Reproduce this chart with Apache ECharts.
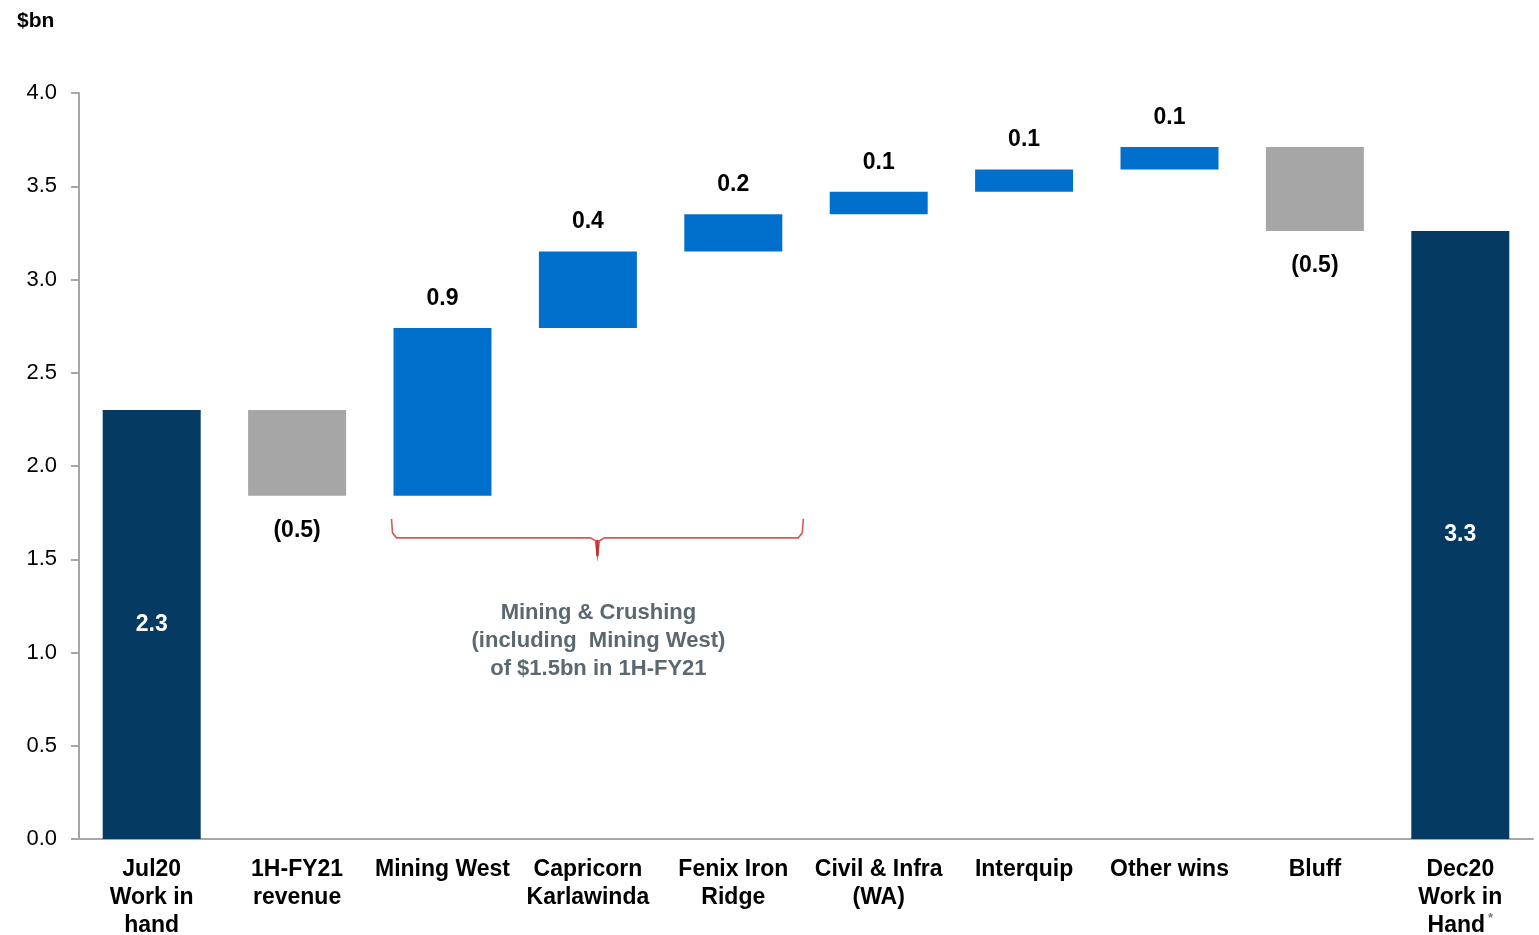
<!DOCTYPE html>
<html>
<head>
<meta charset="utf-8">
<script src="https://cdn.jsdelivr.net/npm/echarts@6/dist/echarts.min.js"></script>
<style>
html,body{margin:0;padding:0;background:#fff;overflow:hidden;}
#chart{width:1539px;height:935px;}
</style>
</head>
<body>
<div id="chart"></div>
<script>
const categories = ['Jul20\nWork in\nhand', '1H-FY21\nrevenue', 'Mining West', 'Capricorn\nKarlawinda', 'Fenix Iron\nRidge', 'Civil & Infra\n(WA)', 'Interquip', 'Other wins', 'Bluff', 'Dec20\nWork in\nHand'];
const kinds = ['total', 'change', 'change', 'change', 'change', 'change', 'change', 'change', 'change', 'total'];
const startValue = 2.30;
const changes = [null, -0.46, 0.90, 0.41, 0.20, 0.12, 0.12, 0.12, -0.45, null];
const valueLabels = ['2.3', '(0.5)', '0.9', '0.4', '0.2', '0.1', '0.1', '0.1', '(0.5)', '3.3'];
const yTicks = { min: 0, max: 4, interval: 0.5 };
const unitLabel = '$bn';
const annotationText = 'Mining & Crushing\n(including  Mining West)\nof $1.5bn in 1H-FY21';

const base = [], totals = [], ups = [], downs = [];
let running = 0;
categories.forEach((c, i) => {
  if (kinds[i] === 'total') {
    const v = i === 0 ? startValue : running;
    running = v;
    base.push(0); totals.push(+v.toFixed(3)); ups.push('-'); downs.push('-');
  } else {
    const d = changes[i];
    if (d >= 0) {
      base.push(+running.toFixed(3)); ups.push(d); downs.push('-'); totals.push('-');
    } else {
      base.push(+(running + d).toFixed(3)); downs.push(-d); ups.push('-'); totals.push('-');
    }
    running += d;
  }
});

const chart = echarts.init(document.getElementById('chart'));
const font = "'Liberation Sans', Arial, sans-serif";
const barW = 98;
const lblFmt = p => valueLabels[p.dataIndex];

chart.setOption({
  animation: false,
  textStyle: { fontFamily: font },
  title: {
    text: unitLabel, left: 12, top: 6,
    textStyle: { fontFamily: font, fontSize: 21, fontWeight: 'bold', color: '#000' }
  },
  grid: { left: 79, right: 6, top: 93, bottom: 96, containLabel: false, outerBoundsMode: 'none' },
  xAxis: {
    type: 'category',
    data: categories,
    axisLine: { lineStyle: { color: '#A6A6A6', width: 2 } },
    axisTick: { show: false },
    axisLabel: {
      interval: 0, margin: 17, color: '#000', fontFamily: font,
      fontSize: 23, fontWeight: 'bold', lineHeight: 28,
      formatter: v => v.indexOf('Hand') >= 0 && v.indexOf('Dec20') >= 0 ? v.replace(/Hand$/, 'Hand{s|*}') : v,
      rich: {
        s: { fontSize: 13, color: '#777', fontFamily: font, verticalAlign: 'top', padding: [0, 0, 14, 3], lineHeight: 28 }
      }
    }
  },
  yAxis: {
    type: 'value',
    min: yTicks.min, max: yTicks.max, interval: yTicks.interval,
    axisLine: { show: true, lineStyle: { color: '#A6A6A6', width: 2 } },
    axisTick: { show: true, length: 8, lineStyle: { color: '#A6A6A6', width: 2 } },
    splitLine: { show: false },
    axisLabel: { margin: 22, color: '#000', fontSize: 22, fontFamily: font, formatter: v => v.toFixed(1) }
  },
  series: [
    { name: 'base', type: 'bar', stack: 'w', barWidth: barW, itemStyle: { color: 'transparent' }, data: base, silent: true },
    {
      name: 'total', type: 'bar', stack: 'w', barWidth: barW, itemStyle: { color: '#053A62' }, data: totals,
      label: { show: true, position: 'inside', color: '#fff', fontWeight: 'bold', fontSize: 23, fontFamily: font, formatter: lblFmt }
    },
    {
      name: 'increase', type: 'bar', stack: 'w', barWidth: barW, itemStyle: { color: '#0070CC' }, data: ups,
      label: { show: true, position: 'top', distance: 18, color: '#000', fontWeight: 'bold', fontSize: 23, fontFamily: font, formatter: lblFmt }
    },
    {
      name: 'decrease', type: 'bar', stack: 'w', barWidth: barW, itemStyle: { color: '#A6A6A6' }, data: downs,
      label: { show: true, position: 'bottom', distance: 23, color: '#000', fontWeight: 'bold', fontSize: 23, fontFamily: font, formatter: lblFmt }
    }
  ]
});

const pL = chart.convertToPixel({ gridIndex: 0 }, [categories[2], base[1]]);
const pR = chart.convertToPixel({ gridIndex: 0 }, [categories[4], base[1]]);
const xl = pL[0] - 51, xr = pR[0] + 70, y0 = pL[1] + 23;
const xm = (xl + xr) / 2;
const red = '#D65A5A';
chart.setOption({
  graphic: [
    {
      type: 'polyline', silent: true,
      shape: { points: [[xl, y0], [xl + 1, y0 + 14], [xl + 5, y0 + 19], [xm - 7, y0 + 19], [xm - 2, y0 + 22], [xm, y0 + 37], [xm + 2, y0 + 22], [xm + 7, y0 + 19], [xr - 5, y0 + 19], [xr - 1, y0 + 14], [xr, y0]] },
      style: { stroke: red, lineWidth: 1.6, fill: null }
    },
    {
      type: 'line', silent: true,
      shape: { x1: xm, y1: y0 + 21, x2: xm, y2: y0 + 37 },
      style: { stroke: '#C8262B', lineWidth: 2.4 }
    },
    {
      type: 'text', silent: true, x: xm + 1, y: y0 + 80,
      style: { text: annotationText, fill: '#5C6870', fontFamily: font, fontSize: 22, fontWeight: 'bold', lineHeight: 28, align: 'center', verticalAlign: 'top' }
    }
  ]
});
</script>
</body>
</html>
